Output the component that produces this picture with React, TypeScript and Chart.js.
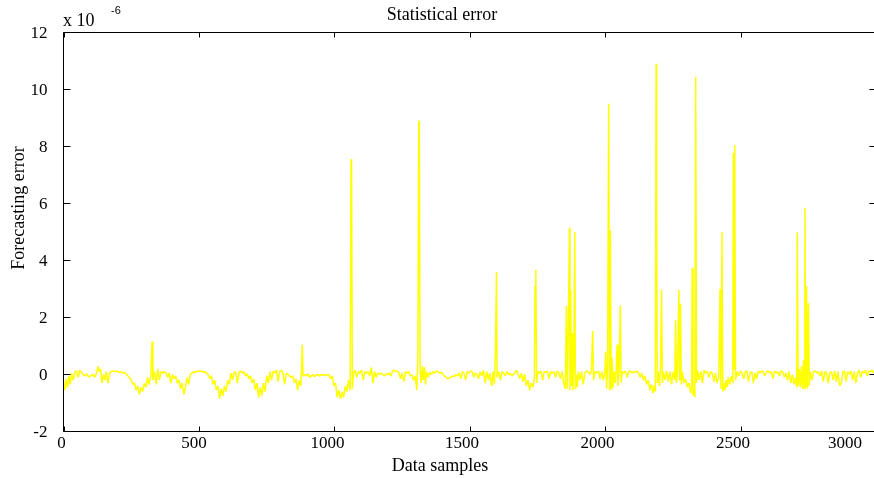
import { useEffect, useRef } from "react";
import { Chart, registerables } from "chart.js";

Chart.register(...registerables);

const chartTitle = "Statistical error";
const xAxisLabel = "Data samples";
const yAxisLabel = "Forecasting error";
const xTickValues = [0, 500, 1000, 1500, 2000, 2500, 3000];
const yTickValues = [-2, 0, 2, 4, 6, 8, 10, 12];

// [sample index, forecasting error in units of 1e-6]
const errorTrace: [number, number][] = [
  [0, -0.25], [5, -0.55], [10, -0.15], [15, -0.45], [20, -0.05], [25, -0.35], [30, 0.05], [36, -0.2],
  [42, 0.1], [48, 0.12], [54, -0.1], [60, 0.15], [66, 0.08], [72, 0.0], [78, -0.05], [85, 0.02],
  [92, -0.08], [100, -0.05], [108, 0.0], [115, -0.1], [122, 0.05], [127, 0.28], [132, 0.1], [137, 0.2],
  [142, -0.3], [148, 0.0], [153, -0.2], [158, 0.1], [164, -0.3], [170, 0.05], [176, 0.1], [183, 0.12],
  [190, 0.1], [197, 0.12], [204, 0.08], [211, 0.1], [218, 0.05], [225, 0.07], [232, 0.0], [238, -0.05],
  [244, -0.12], [250, -0.2], [256, -0.35], [262, -0.3], [268, -0.55], [274, -0.4], [280, -0.7], [286, -0.45],
  [292, -0.6], [298, -0.3], [304, -0.45], [310, -0.1], [316, -0.35], [322, -0.05], [327, 1.16], [330, -0.2],
  [336, 0.1], [342, -0.35], [348, 0.2], [354, -0.2], [360, 0.1], [366, 0.05], [372, 0.1], [378, 0.05],
  [384, -0.1], [390, 0.05], [396, -0.3], [402, 0.0], [408, -0.15], [414, -0.05], [420, -0.3], [426, -0.2],
  [432, -0.5], [438, -0.3], [444, -0.7], [450, -0.45], [456, -0.1], [462, -0.35], [468, 0.0], [474, 0.05],
  [480, 0.1], [486, 0.08], [492, 0.1], [498, 0.12], [504, 0.1], [510, 0.12], [516, 0.08], [522, 0.1],
  [528, 0.05], [534, 0.0], [540, -0.15], [546, -0.05], [552, -0.35], [558, -0.2], [564, -0.55], [570, -0.4],
  [576, -0.85], [582, -0.5], [588, -0.75], [594, -0.4], [600, -0.6], [606, -0.2], [612, -0.35], [618, 0.05],
  [624, -0.2], [630, 0.1], [636, 0.05], [642, -0.3], [648, 0.08], [654, 0.12], [660, 0.05], [666, 0.1],
  [672, -0.05], [678, 0.02], [684, -0.15], [690, -0.05], [696, -0.3], [702, -0.15], [708, -0.55], [714, -0.3],
  [720, -0.8], [726, -0.45], [732, -0.75], [738, -0.3], [744, -0.6], [750, -0.05], [756, -0.3], [762, 0.1],
  [768, -0.2], [774, 0.12], [780, 0.05], [786, 0.15], [792, -0.25], [798, 0.1], [804, 0.15], [810, 0.05],
  [816, -0.35], [822, 0.05], [828, 0.0], [834, -0.05], [840, -0.1], [846, -0.05], [852, -0.3], [858, -0.15],
  [864, -0.55], [870, -0.2], [876, -0.4], [881, 1.04], [884, -0.05], [890, 0.0], [896, -0.05], [902, 0.02],
  [908, -0.1], [914, -0.05], [920, 0.0], [926, -0.08], [932, -0.02], [938, 0.0], [944, -0.05], [950, 0.0],
  [956, -0.03], [962, 0.0], [968, -0.05], [974, 0.0], [980, -0.02], [986, -0.15], [992, -0.05], [998, -0.4],
  [1004, -0.3], [1010, -0.8], [1016, -0.55], [1022, -0.85], [1028, -0.6], [1034, -0.8], [1040, -0.4], [1046, -0.6],
  [1052, -0.2], [1058, -0.55], [1061, 7.5], [1063, 7.56], [1066, -0.5], [1070, 0.05], [1076, 0.15], [1082, -0.1],
  [1088, 0.1], [1094, 0.05], [1100, 0.15], [1106, -0.2], [1112, 0.1], [1118, 0.05], [1124, 0.1], [1130, -0.05],
  [1136, 0.25], [1142, -0.3], [1148, 0.1], [1154, -0.1], [1160, 0.05], [1166, 0.0], [1172, 0.05], [1178, 0.0],
  [1184, -0.05], [1190, 0.02], [1196, 0.0], [1202, 0.05], [1208, -0.05], [1214, 0.12], [1220, 0.15], [1226, 0.1],
  [1232, 0.12], [1238, 0.05], [1244, -0.15], [1250, 0.05], [1256, -0.25], [1262, 0.1], [1268, 0.05], [1274, 0.1],
  [1280, -0.05], [1286, 0.0], [1292, -0.2], [1298, -0.05], [1304, -0.55], [1308, 0.75], [1311, 8.9], [1313, 8.85],
  [1316, 0.1], [1320, -0.3], [1324, 0.3], [1328, -0.2], [1332, 0.25], [1336, -0.35], [1340, 0.1], [1346, -0.1],
  [1352, 0.08], [1358, 0.0], [1364, 0.1], [1370, 0.05], [1376, 0.12], [1382, 0.1], [1388, 0.05], [1394, 0.08],
  [1400, 0.0], [1406, -0.05], [1412, -0.1], [1418, -0.15], [1424, -0.12], [1430, -0.1], [1436, -0.05], [1442, -0.08],
  [1448, 0.0], [1454, -0.05], [1460, 0.05], [1466, -0.15], [1472, 0.1], [1478, 0.05], [1484, -0.2], [1490, 0.1],
  [1496, 0.05], [1502, 0.12], [1508, 0.1], [1514, -0.1], [1520, 0.05], [1526, 0.0], [1532, -0.15], [1538, 0.1],
  [1544, -0.05], [1550, 0.15], [1556, -0.3], [1562, 0.1], [1568, -0.2], [1574, 0.05], [1580, -0.4], [1586, 0.1],
  [1590, -0.35], [1594, 0.8], [1598, 3.6], [1600, -0.1], [1606, 0.1], [1612, -0.2], [1618, 0.1], [1624, 0.05],
  [1630, -0.05], [1636, 0.1], [1642, 0.0], [1648, 0.05], [1654, -0.05], [1660, 0.0], [1666, 0.05], [1672, 0.15],
  [1678, 0.0], [1684, -0.15], [1690, 0.05], [1696, -0.25], [1702, 0.0], [1708, -0.4], [1714, -0.2], [1720, -0.55],
  [1726, -0.3], [1732, -0.45], [1738, -0.1], [1740, 3.1], [1743, 3.67], [1746, -0.3], [1750, 0.1], [1756, 0.05],
  [1762, 0.12], [1768, -0.2], [1774, 0.1], [1780, 0.08], [1786, 0.12], [1792, -0.15], [1798, 0.1], [1804, 0.05],
  [1810, 0.1], [1816, -0.1], [1822, 0.12], [1828, 0.05], [1834, -0.15], [1840, 0.1], [1846, -0.3], [1852, -0.5],
  [1856, 2.4], [1859, -0.5], [1863, 1.5], [1867, 5.15], [1869, -0.55], [1872, 2.97], [1874, -0.4], [1877, 1.46],
  [1880, -0.55], [1883, 0.3], [1887, 5.0], [1889, -0.5], [1892, 0.0], [1896, -0.45], [1900, 0.1], [1906, -0.2],
  [1912, 0.1], [1918, -0.35], [1924, 0.05], [1930, 0.12], [1936, 0.1], [1942, 0.0], [1948, 0.1], [1953, 1.53],
  [1956, -0.2], [1962, 0.1], [1968, 0.05], [1974, 0.12], [1980, -0.15], [1986, 0.1], [1992, -0.2], [1998, 0.1],
  [2001, 0.8], [2004, -0.5], [2008, 0.3], [2012, 9.5], [2015, -0.55], [2018, 5.05], [2021, -0.5], [2024, 0.6],
  [2028, -0.45], [2032, 0.1], [2036, -0.3], [2040, 0.2], [2043, 1.05], [2046, -0.4], [2050, 0.1], [2055, 2.42],
  [2058, -0.3], [2062, 0.1], [2068, 0.05], [2074, 0.12], [2080, -0.1], [2086, 0.1], [2092, 0.12], [2098, 0.05],
  [2104, 0.1], [2110, 0.08], [2116, 0.12], [2122, 0.05], [2128, -0.1], [2134, 0.05], [2140, -0.2], [2146, -0.05],
  [2152, -0.35], [2158, -0.2], [2164, -0.55], [2170, -0.35], [2176, -0.65], [2180, -0.4], [2184, -0.6], [2187, 10.9],
  [2189, 5.6], [2191, -0.3], [2195, 0.1], [2199, -0.4], [2203, 0.2], [2207, 2.97], [2210, -0.3], [2214, 0.1],
  [2220, -0.2], [2226, 0.12], [2232, -0.25], [2238, 0.1], [2244, -0.35], [2250, 0.1], [2256, -0.2], [2259, 1.9],
  [2262, -0.3], [2266, 0.1], [2271, 2.97], [2274, -0.2], [2277, 2.48], [2280, -0.35], [2284, 0.1], [2290, -0.3],
  [2296, -0.15], [2302, -0.45], [2308, -0.3], [2314, -0.65], [2318, -0.4], [2320, 3.73], [2323, -0.75], [2327, -0.5],
  [2330, -0.8], [2333, 10.45], [2336, -0.3], [2340, 0.15], [2346, -0.2], [2352, 0.1], [2358, -0.3], [2364, 0.15],
  [2370, 0.05], [2376, 0.1], [2382, -0.1], [2388, 0.1], [2394, 0.05], [2400, -0.25], [2406, 0.05], [2412, -0.3],
  [2418, -0.1], [2423, 3.0], [2426, -0.5], [2430, 5.0], [2433, -0.6], [2437, -0.3], [2441, -0.55], [2445, -0.2],
  [2449, -0.45], [2453, -0.1], [2459, -0.35], [2465, -0.05], [2470, -0.3], [2472, 7.77], [2475, 0.2], [2477, 8.05],
  [2480, -0.2], [2486, 0.1], [2492, -0.05], [2498, 0.12], [2504, 0.05], [2510, -0.15], [2516, 0.1], [2522, 0.12],
  [2528, -0.25], [2534, 0.05], [2540, 0.1], [2546, -0.3], [2552, 0.05], [2558, -0.15], [2564, 0.12], [2570, 0.05],
  [2576, 0.12], [2582, 0.1], [2588, -0.05], [2594, 0.1], [2600, 0.12], [2606, 0.05], [2612, 0.1], [2618, -0.15],
  [2624, 0.12], [2630, 0.05], [2636, 0.1], [2642, -0.05], [2648, 0.12], [2654, 0.1], [2660, -0.1], [2666, 0.05],
  [2672, -0.2], [2678, 0.1], [2684, -0.3], [2690, 0.0], [2696, -0.35], [2702, -0.1], [2706, -0.45], [2708, 4.98],
  [2711, -0.4], [2715, 0.2], [2719, -0.45], [2723, 0.3], [2727, -0.5], [2731, 0.5], [2734, -0.5], [2736, 5.85],
  [2739, -0.45], [2742, 3.1], [2745, -0.5], [2749, 2.5], [2752, -0.4], [2756, 0.1], [2762, -0.2], [2768, 0.1],
  [2774, 0.12], [2780, 0.05], [2786, 0.1], [2792, -0.05], [2798, 0.12], [2804, -0.25], [2810, 0.1], [2816, 0.05],
  [2822, -0.3], [2828, 0.05], [2834, 0.1], [2840, -0.2], [2846, 0.12], [2852, -0.25], [2858, 0.1], [2864, -0.4],
  [2870, -0.3], [2876, 0.1], [2882, 0.12], [2888, -0.25], [2894, 0.1], [2900, 0.0], [2906, 0.12], [2912, -0.2],
  [2918, 0.1], [2924, -0.3], [2930, 0.05], [2936, 0.15], [2942, -0.1], [2948, 0.12], [2954, 0.05], [2960, 0.15],
  [2966, -0.05], [2972, 0.12], [2978, 0.1], [2984, 0.15], [2990, 0.05], [2996, 0.1], [3000, 0.05],
];

const serif = '"Liberation Serif", "Times New Roman", serif';
const sans = '"Liberation Sans", Arial, sans-serif';

const matlabAxesPlugin = {
  id: "matlabAxes",
  afterDraw(chart: any) {
    const { ctx, chartArea, scales } = chart;
    const xs = scales.x;
    const ys = scales.y;
    const left = chartArea.left;
    const top = chartArea.top;
    const bottom = chartArea.bottom;
    const right = xs.getPixelForValue(3000);
    ctx.save();
    ctx.strokeStyle = "#000";
    ctx.lineWidth = 1;
    ctx.beginPath();
    ctx.moveTo(left, top);
    ctx.lineTo(right, top);
    ctx.lineTo(right, bottom);
    ctx.lineTo(left, bottom);
    ctx.closePath();
    ctx.stroke();

    // inward tick marks
    ctx.beginPath();
    for (const v of xTickValues) {
      const px = Math.round(xs.getPixelForValue(v)) + 0.5;
      ctx.moveTo(px, bottom);
      ctx.lineTo(px, bottom - 5);
      ctx.moveTo(px, top);
      ctx.lineTo(px, top + 5);
    }
    for (const v of yTickValues) {
      const py = Math.round(ys.getPixelForValue(v) - 0.5) + 0.5;
      ctx.moveTo(left, py);
      ctx.lineTo(left + 7, py);
      ctx.moveTo(right, py);
      ctx.lineTo(right - 7, py);
    }
    ctx.stroke();

    ctx.fillStyle = "#000";
    // y tick labels
    ctx.font = `17px ${serif}`;
    ctx.textAlign = "right";
    ctx.textBaseline = "middle";
    for (const v of yTickValues) {
      ctx.fillText(String(v), left - 16, ys.getPixelForValue(v) + 1);
    }
    // x tick labels
    const shifts = [-2, -5, -7, -8, -8, -8, -8];
    ctx.textAlign = "center";
    xTickValues.forEach((v, i) => {
      const label = String(v);
      const w = ctx.measureText(label).width;
      let cx = xs.getPixelForValue(v) + shifts[i];
      if (cx + w / 2 > chart.width - 12) cx = chart.width - 12 - w / 2;
      ctx.fillText(label, cx, bottom + 12);
    });

    // axis labels and title
    ctx.font = `18px ${serif}`;
    ctx.fillText(xAxisLabel, 440, bottom + 35);
    ctx.fillText(chartTitle, 442, 15);
    ctx.save();
    ctx.translate(19, 208);
    ctx.rotate(-Math.PI / 2);
    ctx.fillText(yAxisLabel, 0, 0);
    ctx.restore();

    // exponent
    ctx.textAlign = "left";
    ctx.fillText("x 10", 63, 21);
    ctx.font = `11px ${sans}`;
    ctx.fillText("-6", 111, 11);
    ctx.restore();
  },
};

export default function App() {
  const canvasRef = useRef<HTMLCanvasElement | null>(null);

  useEffect(() => {
    const canvas = canvasRef.current;
    if (!canvas) return;
    const chart = new Chart(canvas, {
      type: "line",
      data: {
        datasets: [
          {
            label: "Forecasting error",
            data: errorTrace.map(([x, y]) => ({ x, y })),
            borderColor: "#ffff00",
            borderWidth: 1.5,
            pointRadius: 0,
            tension: 0,
            fill: false,
            borderJoinStyle: "bevel",
          },
        ],
      },
      options: {
        responsive: false,
        animation: false,
        devicePixelRatio: 1,
        layout: { padding: { left: 63.5, top: 32.5, right: 0, bottom: 46.5 } },
        plugins: { legend: { display: false }, tooltip: { enabled: false }, title: { display: false } },
        events: [],
        scales: {
          x: { type: "linear", min: 0, max: 2991, display: false },
          y: { type: "linear", min: -2, max: 12, display: false },
        },
      },
      plugins: [matlabAxesPlugin],
    });
    return () => chart.destroy();
  }, []);

  return (
    <div style={{ position: "absolute", left: 0, top: 0, width: 874, height: 478, background: "#fff" }}>
      <canvas ref={canvasRef} width={874} height={478} style={{ display: "block" }} />
    </div>
  );
}
